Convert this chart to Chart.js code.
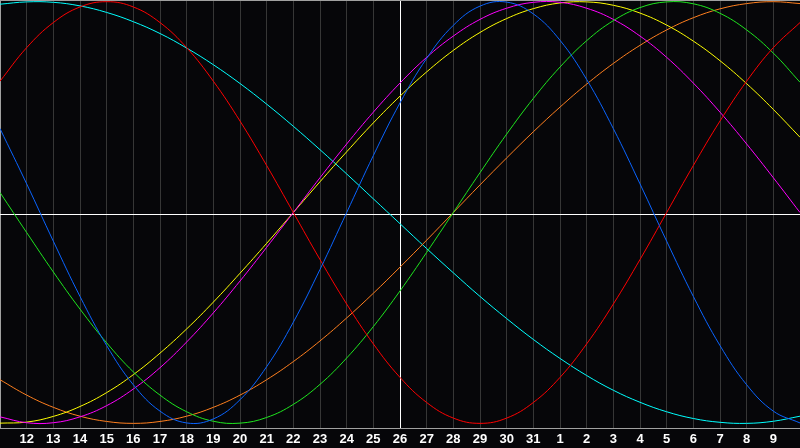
<!DOCTYPE html>
<html>
<head>
<meta charset="utf-8">
<script src="https://cdn.jsdelivr.net/npm/chart.js@4/dist/chart.umd.min.js"></script>
<style>
  html, body { margin: 0; padding: 0; background: #060609; }
  canvas { display: block; background: #060609; }
</style>
</head>
<body>
<canvas id="bio-chart" width="800" height="448"></canvas>
<script>
// Days shown on the axis (first and last only frame the plot)
const days = ['11', '12', '13', '14', '15', '16', '17', '18', '19', '20', '21', '22', '23', '24', '25',
  '26', '27', '28', '29', '30', '31', '1', '2', '3', '4', '5', '6', '7', '8', '9', '10'];
const todayIndex = 15;

// Curve values, one per day
const physical = [0.398, 0.136, -0.136, -0.398, -0.631, -0.817, -0.942, -0.998, -0.979, -0.888,
  -0.731, -0.520, -0.270, 0, 0.270, 0.520, 0.731, 0.888, 0.979, 0.998,
  0.942, 0.817, 0.631, 0.398, 0.136, -0.136, -0.398, -0.631, -0.817, -0.942, -0.998];
const emotional = [0.623, 0.782, 0.901, 0.975, 1, 0.975, 0.901, 0.782, 0.623, 0.434,
  0.223, 0, -0.223, -0.434, -0.623, -0.782, -0.901, -0.975, -1, -0.975,
  -0.901, -0.782, -0.623, -0.434, -0.223, 0, 0.223, 0.434, 0.623, 0.782, 0.901];
const intellectual = [0.095, -0.095, -0.282, -0.458, -0.618, -0.756, -0.866, -0.945, -0.990, -0.999,
  -0.972, -0.910, -0.815, -0.690, -0.541, -0.372, -0.189, 0, 0.189, 0.372,
  0.541, 0.690, 0.815, 0.910, 0.972, 0.999, 0.990, 0.945, 0.866, 0.756, 0.618];
const intuitive = [-0.969, -0.997, -0.997, -0.969, -0.916, -0.837, -0.736, -0.614, -0.476, -0.325,
  -0.165, 0, 0.165, 0.325, 0.476, 0.614, 0.736, 0.837, 0.916, 0.969,
  0.997, 0.997, 0.969, 0.916, 0.837, 0.736, 0.614, 0.476, 0.325, 0.165, 0];
const aesthetic = [-0.999, -0.994, -0.967, -0.920, -0.854, -0.769, -0.667, -0.552, -0.425, -0.288,
  -0.146, 0, 0.146, 0.288, 0.425, 0.552, 0.667, 0.769, 0.854, 0.920,
  0.967, 0.994, 0.999, 0.983, 0.946, 0.889, 0.813, 0.720, 0.611, 0.489, 0.357];
const awareness = [-0.793, -0.866, -0.924, -0.966, -0.991, -1, -0.991, -0.966, -0.924, -0.866,
  -0.793, -0.707, -0.609, -0.5, -0.383, -0.259, -0.131, 0, 0.131, 0.259,
  0.383, 0.5, 0.609, 0.707, 0.793, 0.866, 0.924, 0.966, 0.991, 1, 0.991];
const spiritual = [0.988, 0.999, 0.997, 0.980, 0.949, 0.905, 0.849, 0.780, 0.701, 0.612,
  0.514, 0.409, 0.298, 0.183, 0.065, -0.053, -0.171, -0.286, -0.398, -0.503,
  -0.602, -0.692, -0.773, -0.843, -0.900, -0.945, -0.977, -0.995, -1.000, -0.990, -0.966];

const yMin = -1.022;
const yMax = 1.008;

function line(data, color) {
  return {
    data: data,
    borderColor: color,
    borderWidth: 1,
    pointRadius: 0,
    tension: 0.4,
    fill: false,
  };
}

const ctx = document.getElementById('bio-chart').getContext('2d');
const chart = new Chart(ctx, {
  type: 'line',
  data: {
    labels: days,
    datasets: [
      line(physical, '#0a64ff'),
      line(emotional, '#ff0000'),
      line(intellectual, '#1ee61e'),
      line(intuitive, '#ff00ff'),
      line(aesthetic, '#ffff00'),
      line(awareness, '#ff7f1e'),
      line(spiritual, '#00ffff'),
    ],
  },
  options: {
    responsive: false,
    animation: false,
    layout: { padding: 0 },
    plugins: {
      legend: { display: false },
      tooltip: { enabled: false },
    },
    scales: {
      x: {
        offset: false,
        grid: {
          drawTicks: false,
          color: (c) => {
            if (c.index === todayIndex) return '#ffffff';
            if (c.index === 0 || c.index === days.length - 1) return '#a0a0a0';
            return '#363636';
          },
        },
        border: { color: '#a0a0a0' },
        ticks: {
          color: '#ffffff',
          padding: 4,
          maxRotation: 0,
          autoSkip: false,
          font: { family: 'Liberation Sans', size: 13, weight: 'bold' },
          callback: (v, i) => (i === 0 || i === days.length - 1 ? '' : days[i]),
        },
        afterFit: (scale) => {
          scale.height = 20;
          scale.paddingLeft = 0;
          scale.paddingRight = 0;
        },
      },
      y: {
        min: yMin,
        max: yMax,
        afterBuildTicks: (scale) => {
          scale.ticks = [{ value: yMin }, { value: (yMin + yMax) / 2 }, { value: yMax }];
        },
        grid: {
          drawTicks: false,
          color: (c) => (c.index === 1 ? '#ffffff' : '#a0a0a0'),
        },
        border: { display: false },
        ticks: { display: false },
        afterFit: (scale) => {
          scale.width = 0;
          scale.paddingTop = 0;
          scale.paddingBottom = 0;
        },
      },
    },
  },
});
</script>
</body>
</html>
